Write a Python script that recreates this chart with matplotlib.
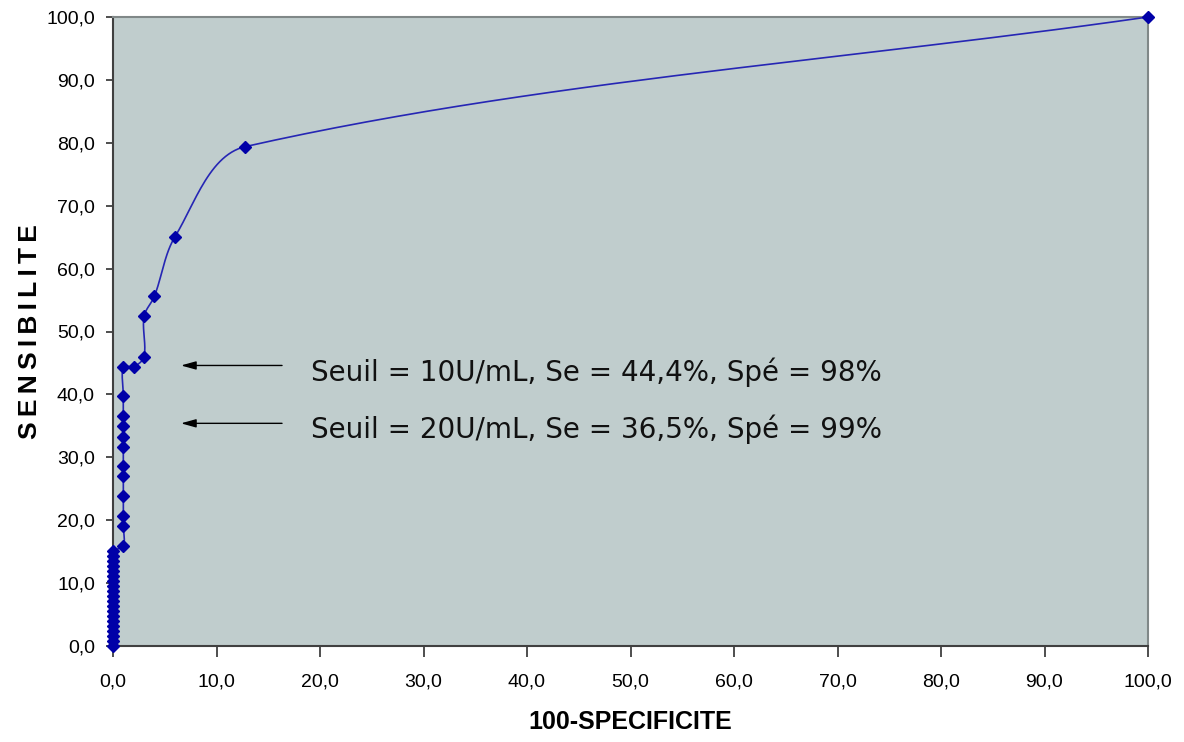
import numpy as np
import matplotlib
matplotlib.use("Agg")
import matplotlib.pyplot as plt

# ROC curve points (100 - specificity, sensitivity), in %
spec_100 = [0.0, 0.0, 0.0, 0.0, 0.0, 0.0, 0.0, 0.0, 0.0, 0.0,
            0.0, 0.0, 0.0, 0.0, 0.0, 0.0, 0.0, 0.0, 0.0, 0.0,
            1.0, 1.0, 1.0, 1.0, 1.0, 1.0, 1.0, 1.0, 1.0, 1.0,
            1.0, 1.0, 2.0, 3.0, 3.0, 4.0, 6.0, 12.8, 100.0]
sensib = [0.0, 0.8, 1.6, 2.4, 3.2, 4.0, 4.8, 5.6, 6.3, 7.1,
          7.9, 8.7, 9.5, 10.3, 11.1, 11.9, 12.7, 13.5, 14.3, 15.1,
          15.9, 19.0, 20.6, 23.8, 27.0, 28.6, 31.7, 33.3, 34.9, 36.5,
          39.7, 44.4, 44.4, 46.0, 52.4, 55.6, 65.1, 79.4, 100.0]

ticks = [0, 10, 20, 30, 40, 50, 60, 70, 80, 90, 100]
tick_labels = ["0,0", "10,0", "20,0", "30,0", "40,0", "50,0",
               "60,0", "70,0", "80,0", "90,0", "100,0"]

notes = ["Seuil = 10U/mL, Se = 44,4%, Spé = 98%",
         "Seuil = 20U/mL, Se = 36,5%, Spé = 99%"]
note_y = [44.6, 35.4]


def smooth(xs, ys, sx=10.35, sy=6.31, n=30):
    # smoothed line like excel: bezier segments, tangents scaled by chord length
    p = np.column_stack([np.array(xs) * sx, np.array(ys) * sy]).astype(float)
    p = np.vstack([p[0], p, p[-1]])
    out = []
    t = np.linspace(0, 1, n)[:, None]
    for i in range(1, len(p) - 2):
        p0, p1, p2, p3 = p[i - 1], p[i], p[i + 1], p[i + 2]
        d01 = np.hypot(*(p1 - p0))
        d12 = np.hypot(*(p2 - p1))
        d23 = np.hypot(*(p3 - p2))
        if d12 == 0:
            continue
        k1 = d12 / (d01 + d12) if d01 + d12 > 0 else 0
        k2 = d12 / (d12 + d23) if d12 + d23 > 0 else 0
        c1 = p1 + (p2 - p0) * k1 / 3
        c2 = p2 - (p3 - p1) * k2 / 3
        seg = ((1 - t) ** 3) * p1 + 3 * ((1 - t) ** 2) * t * c1 \
            + 3 * (1 - t) * t ** 2 * c2 + t ** 3 * p2
        out.append(seg)
    out = np.vstack(out)
    return out[:, 0] / sx, out[:, 1] / sy


fig = plt.figure(figsize=(11.84, 7.42), dpi=100)
ax = fig.add_axes([113 / 1184, 1 - 646 / 742, (1148 - 113) / 1184, (646 - 17) / 742])
ax.set_facecolor("#c0cdcd")

sx, sy = smooth(spec_100, sensib)
ax.plot(sx, sy, color="#2626b4", lw=1.2, zorder=3, clip_on=False)
ax.plot(spec_100, sensib, ls="none", marker="D", ms=6.5, color="#0000a8",
        zorder=4, clip_on=False)

ax.set_xlim(0, 100)
ax.set_ylim(0, 100)
ax.set_xticks(ticks)
ax.set_xticklabels(tick_labels)
ax.set_yticks(ticks)
ax.set_yticklabels(tick_labels)

for lab in ax.get_xticklabels() + ax.get_yticklabels():
    lab.set_fontfamily("Liberation Sans")
    lab.set_fontsize(14)
    lab.set_color("black")
ax.tick_params(axis="x", direction="out", length=8, width=1.2, pad=12, colors="#303030",
               labelcolor="black")
ax.tick_params(axis="y", direction="out", length=5, width=1.2, pad=8, colors="#303030",
               labelcolor="black")

ax.spines["left"].set_color("#404040")
ax.spines["bottom"].set_color("#404040")
ax.spines["top"].set_color("#808888")
ax.spines["right"].set_color("#808888")
for s in ax.spines.values():
    s.set_linewidth(1.5)

for txt, y in zip(notes, note_y):
    ax.annotate("", xy=(6.3, y), xytext=(16.6, y),
                arrowprops=dict(arrowstyle="-|>,head_length=0.9,head_width=0.25",
                                color="black", lw=1))
    ax.text(19.1, y - 1.0, txt, fontsize=20, family="DejaVu Sans",
            va="center", ha="left", color="#111111")

fig.text(30 / 1184, 1 - 332 / 742, "S\u2009E\u2009N\u2009S\u2009I\u2009B\u2009I\u2009L\u2009I\u2009T\u2009E",
         rotation=90, fontsize=19, fontweight="bold",
         family=["Liberation Sans", "DejaVu Sans"], ha="center", va="center")
fig.text(630 / 1184, 1 - 722 / 742, "100-SPECIFICITE", fontsize=18,
         fontweight="bold", family="Liberation Sans", ha="center", va="center")

fig.savefig("out.png", dpi=100)
